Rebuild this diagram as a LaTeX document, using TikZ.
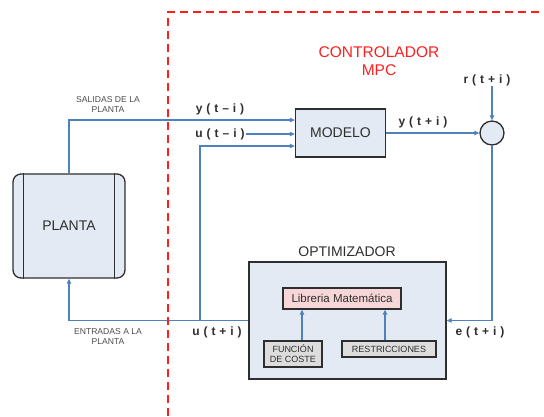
\documentclass[tikz,border=0pt]{standalone}
\usepackage{fontspec}
\setmainfont{Liberation Sans}
\newfontfamily\sigfont[LetterSpace=33]{Liberation Sans}
\usetikzlibrary{arrows.meta,positioning,calc}
\definecolor{wire}{HTML}{4F81BD}
\definecolor{boxfill}{HTML}{E3EAF4}
\definecolor{pinkfill}{HTML}{F6D6D6}
\definecolor{greyfill}{HTML}{DDDDDD}
\definecolor{edge}{HTML}{2E2E2E}
\definecolor{mpcred}{HTML}{FF1E1E}
\tikzset{>={Triangle[length=5pt,width=4.5pt]},
blk/.style={draw=edge,line width=1.3pt,fill=boxfill,font=\fontsize{14}{16}\selectfont,text=edge,inner sep=0pt},
sub/.style={draw=edge,line width=1.4pt,fill=greyfill,font=\fontsize{9}{10}\selectfont,text=edge,align=center,inner sep=0pt},
arr/.style={->,wire,line width=1.1pt},
sig/.style={font=\sigfont\bfseries\fontsize{12}{12}\selectfont,text=edge,inner sep=0pt},
tag/.style={font=\fontsize{8.6}{10}\selectfont,text=edge!85,align=center,inner sep=0pt}}
\begin{document}
\begin{tikzpicture}[x=1pt,y=-1pt]
\useasboundingbox (0,0) rectangle (544,416);
% blocks
\node[blk,minimum width=90,minimum height=48] (modelo) at (340.5,133) {MODELO};
\node[draw=edge,line width=1.3pt,fill=boxfill,circle,minimum size=24pt,inner sep=0pt] (suma) at (492,133) {};
\node[blk,rounded corners=8pt,minimum width=112,minimum height=104] (planta) at (69,226) {PLANTA};
\draw[edge,line width=1pt] ($(planta.north west)+(11,0)$)--($(planta.south west)+(11,0)$);
\draw[edge,line width=1pt] ($(planta.north east)+(-11,0)$)--($(planta.south east)+(-11,0)$);
\node[blk,minimum width=197,minimum height=117] (optim) at (347.5,320.5) {};
\node[font=\fontsize{14}{16}\selectfont,text=edge] (optlbl) at (347,252) {OPTIMIZADOR};
\node[draw=edge,line width=1.3pt,fill=pinkfill,minimum width=118,minimum height=21,inner sep=0pt,font=\fontsize{11.5}{12}\selectfont,text=edge] (libreria) at (342,298.5) {Libreria Matemática};
\node[sub,minimum width=58,minimum height=26] (coste) at (293,354) {FUNCIÓN\\DE COSTE};
\node[sub,minimum width=94,minimum height=16] (restric) at (389,349) {RESTRICCIONES};
% labels
\node[text=mpcred,font=\fontsize{15.5}{18.5}\selectfont,align=center] (ctrl) at (379,61) {CONTROLADOR\\MPC};
\node[sig] (ypast) at (220,109) {y(t–i)};
\node[sig] (upast) at (220,134) {u(t–i)};
\node[sig] (ypred) at (423,122.5) {y(t+i)};
\node[sig] (ref) at (487,80.5) {r(t+i)};
\node[sig] (ufut) at (217,332) {u(t+i)};
\node[sig] (err) at (480,332) {e(t+i)};
\node[tag] (salidas) at (108,104) {SALIDAS DE LA\\PLANTA};
\node[tag] (entradas) at (108,336) {ENTRADAS A LA\\PLANTA};
% connectors
\coordinate (ju) at (200,320);
\coordinate (cf) at ($(coste.north)+(9,0)$);
\coordinate (rf) at ($(restric.north)+(-4,0)$);
\draw[arr] (planta.north) |- ($(modelo.west)+(0,-13)$);
\draw[arr] ([xshift=1pt]upast.east) -- (upast.east -| modelo.west);
\draw[arr] (ju) |- ($(modelo.west)+(0,13)$);
\draw[arr] (optim.west) -| (planta.south);
\draw[arr] (modelo.east) -- (suma.west);
\draw[arr] (suma.north |- ref.south) -- (suma.north);
\draw[arr] (suma.south) |- (optim.east);
\draw[arr] (cf) -- (cf |- libreria.south);
\draw[arr] (rf) -- (rf |- libreria.south);
% controller boundary
\draw[mpcred,line width=2.5pt,dash pattern=on 8pt off 5pt] (168,416)--(168,12)--(544,12);
\end{tikzpicture}
\end{document}
